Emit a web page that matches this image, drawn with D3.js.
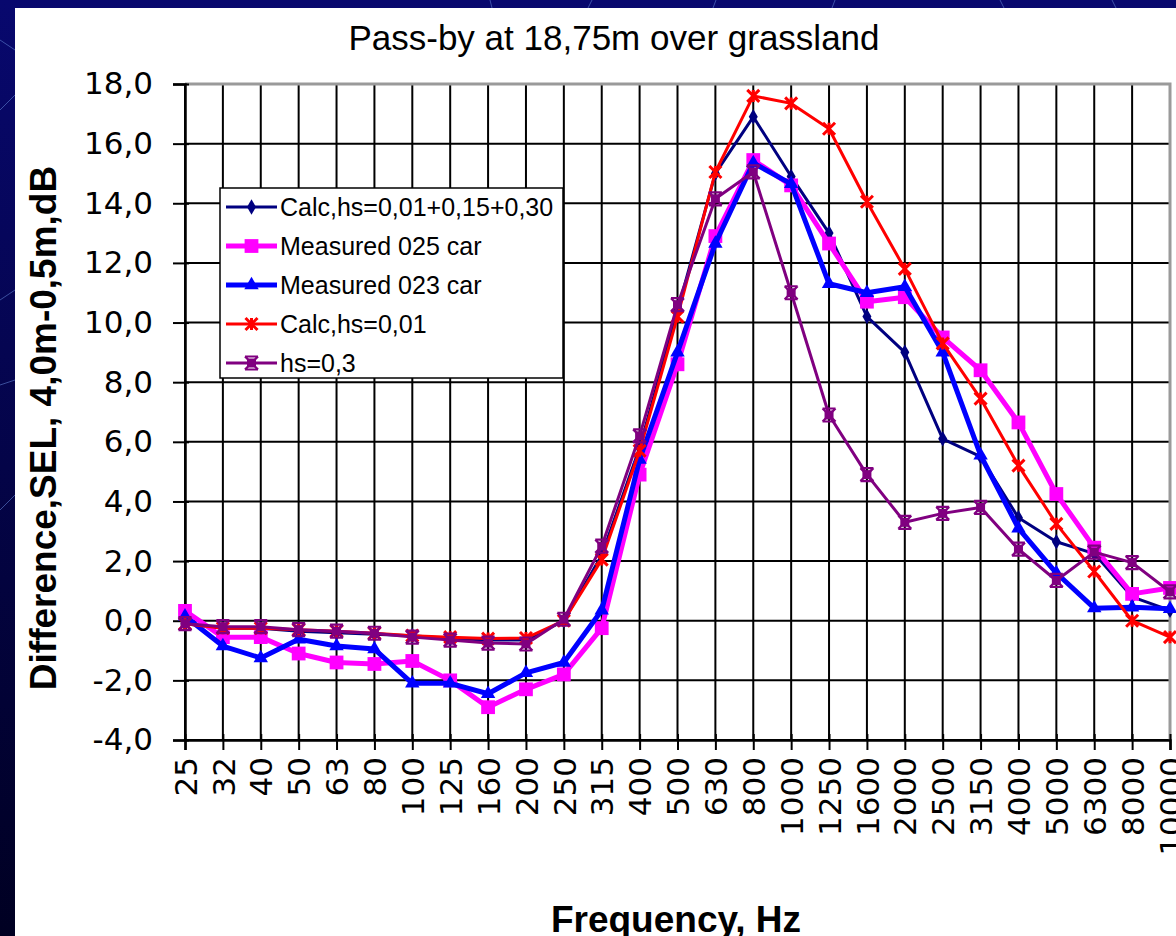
<!DOCTYPE html>
<html>
<head>
<meta charset="utf-8">
<script src="https://cdn.jsdelivr.net/npm/d3@7"></script>
<style>
  html, body { margin: 0; padding: 0; background: #00003a; }
  svg { display: block; }
</style>
</head>
<body>
<svg id="chart" width="1176" height="936"></svg>
<script>
// Third-octave band centre frequencies (Hz)
const categories = ["25","32","40","50","63","80","100","125","160","200","250","315","400","500",
  "630","800","1000","1250","1600","2000","2500","3150","4000","5000","6300","8000","10000"];

// SEL difference 4,0 m minus 0,5 m (dB) per band
const calcCombined = [-0.1,-0.25,-0.25,-0.35,-0.4,-0.45,-0.5,-0.6,-0.65,-0.65,0.0,2.2,5.8,10.4,
  15.0,16.9,14.9,13.0,10.2,9.0,6.1,5.5,3.45,2.65,2.25,0.8,0.35];
const measured025 = [0.33,-0.55,-0.55,-1.1,-1.4,-1.45,-1.35,-2.0,-2.9,-2.3,-1.8,-0.25,4.9,8.6,
  12.9,15.45,14.6,12.65,10.7,10.85,9.5,8.4,6.65,4.25,2.45,0.9,1.1];
const measured023 = [0.15,-0.85,-1.25,-0.62,-0.85,-0.95,-2.1,-2.1,-2.45,-1.75,-1.4,0.35,5.4,9.0,
  12.65,15.35,14.65,11.3,11.0,11.2,9.0,5.55,3.1,1.6,0.42,0.45,0.4];
const calcHs001 = [-0.1,-0.25,-0.25,-0.3,-0.35,-0.42,-0.5,-0.55,-0.6,-0.58,0.0,2.05,5.7,10.2,
  15.05,17.6,17.35,16.5,14.05,11.8,9.3,7.45,5.2,3.25,1.65,0.0,-0.55];
const calcHs03 = [-0.1,-0.2,-0.2,-0.3,-0.35,-0.42,-0.55,-0.65,-0.75,-0.78,0.05,2.5,6.2,10.6,
  14.15,15.05,11.0,6.9,4.9,3.3,3.6,3.8,2.4,1.35,2.3,1.95,0.97];

const seriesNames = ["Calc,hs=0,01+0,15+0,30","Measured 025 car","Measured 023 car","Calc,hs=0,01","hs=0,3"];
const seriesValues = [calcCombined, measured025, measured023, calcHs001, calcHs03];

const yTickValues = [-4,-2,0,2,4,6,8,10,12,14,16,18];

const titleText = "Pass-by at 18,75m over grassland";
const yTitleText = "Difference,SEL, 4,0m-0,5m,dB";
const xTitleText = "Frequency, Hz";

// Per-series drawing style
const styles = [
  {color:"#000080", width:3, marker:"diamond"},
  {color:"#ff00ff", width:5, marker:"square"},
  {color:"#0000ff", width:5, marker:"triangle"},
  {color:"#ff0000", width:3, marker:"star"},
  {color:"#800080", width:3, marker:"starsquare"}
];

const svg = d3.select("#chart");
const W = 1176, H = 936;
const plot = {left:185, right:1170, top:84, bottom:740};

// Slide background
const defs = svg.append("defs");
const bg = defs.append("linearGradient").attr("id","bgGrad").attr("x1",0).attr("y1",0).attr("x2",0).attr("y2",1);
bg.append("stop").attr("offset","0%").attr("stop-color","#08086e");
bg.append("stop").attr("offset","100%").attr("stop-color","#000022");
svg.append("rect").attr("width",W).attr("height",H).attr("fill","url(#bgGrad)");
// faint decorative strokes on the slide background
const deco = [[490,0,492,8],[592,0,588,8],[716,0,713,8],[835,0,832,8],[1000,0,1004,8],[1112,0,1116,8],
  [0,110,15,95],[0,300,15,290],[0,385,15,380],[0,510,15,495],[0,40,15,50]];
svg.selectAll("line.deco").data(deco).join("line").attr("class","deco")
  .attr("x1",d=>d[0]).attr("y1",d=>d[1]).attr("x2",d=>d[2]).attr("y2",d=>d[3])
  .attr("stroke","#5f7fd0").attr("stroke-width",1).attr("opacity",0.6);

// White chart panel
svg.append("rect").attr("x",15).attr("y",8).attr("width",W-15).attr("height",H-8).attr("fill","#ffffff");

const x = d3.scalePoint().domain(categories).range([plot.left, plot.right]);
const y = d3.scaleLinear().domain([-4,18]).range([plot.bottom, plot.top]);
const fmt = v => d3.format(".1f")(v).replace(".", ",").replace("−","-");

// Gridlines
const grid = svg.append("g").attr("stroke","#000").attr("stroke-width",2);
grid.selectAll("line.h").data(yTickValues).join("line")
  .attr("x1",plot.left).attr("x2",plot.right).attr("y1",d=>y(d)).attr("y2",d=>y(d));
grid.selectAll("line.v").data(categories).join("line")
  .attr("y1",plot.top).attr("y2",plot.bottom).attr("x1",d=>x(d)).attr("x2",d=>x(d));

// Plot area border (top/right)
svg.append("path")
  .attr("d",`M${plot.left},${plot.top}H${plot.right}V${plot.bottom}`)
  .attr("fill","none").attr("stroke","#9a9a9a").attr("stroke-width",3);

// Y axis
const yAxis = svg.append("g").attr("transform",`translate(${plot.left},0)`)
  .call(d3.axisLeft(y).tickValues(yTickValues).tickSize(12).tickPadding(20).tickFormat(fmt));
yAxis.select(".domain").attr("stroke","#000").attr("stroke-width",2.5);
yAxis.selectAll(".tick line").attr("stroke","#000").attr("stroke-width",2).attr("x2",-12);
yAxis.selectAll(".tick").append("line").attr("x1",0).attr("x2",4).attr("stroke","#000").attr("stroke-width",2);
yAxis.selectAll(".tick text").attr("font-family","'DejaVu Sans', sans-serif").attr("font-size",31).attr("fill","#000");

// X axis
const xAxis = svg.append("g").attr("transform",`translate(0,${plot.bottom})`)
  .call(d3.axisBottom(x).tickSize(10));
xAxis.select(".domain").attr("stroke","#000").attr("stroke-width",2.5);
xAxis.selectAll(".tick line").attr("stroke","#000").attr("stroke-width",2).attr("y1",-6);
xAxis.selectAll(".tick text")
  .attr("font-family","'DejaVu Sans', sans-serif").attr("font-size",31).attr("fill","#000")
  .attr("transform","rotate(-90)").attr("x",-17).attr("y",0).attr("dy","0.36em")
  .attr("text-anchor","end");

// Marker shapes
function markerPath(type) {
  switch (type) {
    case "diamond": return d3.symbol(d3.symbolDiamond, 70)();
    case "square": return d3.symbol(d3.symbolSquare, 190)();
    case "triangle": return d3.symbol(d3.symbolTriangle, 90)();
    default: return null;
  }
}
function drawMarker(g, type, color) {
  if (type === "star") {
    const s = 6;
    g.append("path").attr("d",`M${-s},${-s}L${s},${s}M${-s},${s}L${s},${-s}M0,${-s}L0,${s}`)
      .attr("stroke",color).attr("stroke-width",3).attr("fill","none");
  } else if (type === "starsquare") {
    g.append("rect").attr("x",-4.5).attr("y",-4.5).attr("width",9).attr("height",9).attr("fill",color);
    const s = 6.5;
    g.append("path").attr("d",`M${-s},${-s}L${s},${s}M${-s},${s}L${s},${-s}M${-s},${-s}H${s}M${-s},${s}H${s}`)
      .attr("stroke",color).attr("stroke-width",2.2).attr("fill","none");
  } else {
    g.append("path").attr("d",markerPath(type)).attr("fill",color);
  }
}

// Series
const line = d3.line().x((d,i)=>x(categories[i])).y(d=>y(d));
seriesValues.forEach((vals, si) => {
  const st = styles[si];
  const g = svg.append("g");
  g.append("path").datum(vals).attr("d",line).attr("fill","none")
    .attr("stroke",st.color).attr("stroke-width",st.width).attr("stroke-linejoin","round");
  vals.forEach((v,i) => {
    const mg = g.append("g").attr("transform",`translate(${x(categories[i])},${y(v)})`);
    drawMarker(mg, st.marker, st.color);
  });
});

// Legend
const leg = svg.append("g");
leg.append("rect").attr("x",220).attr("y",188).attr("width",343).attr("height",190)
  .attr("fill","#fff").attr("stroke","#000").attr("stroke-width",1.5);
seriesNames.forEach((name, si) => {
  const st = styles[si];
  const cy = 207 + si * 39;
  leg.append("line").attr("x1",226).attr("x2",277).attr("y1",cy).attr("y2",cy)
    .attr("stroke",st.color).attr("stroke-width",st.width);
  const mg = leg.append("g").attr("transform",`translate(251.5,${cy})`);
  drawMarker(mg, st.marker, st.color);
  leg.append("text").attr("x",280).attr("y",cy).attr("dy","0.36em")
    .attr("font-family","'Liberation Sans', Arial, sans-serif").attr("font-size",25)
    .attr("fill","#000").text(name);
});

// Titles
svg.append("text").attr("x",614).attr("y",50).attr("text-anchor","middle")
  .attr("font-family","'Liberation Sans', Arial, sans-serif").attr("font-size",35)
  .attr("fill","#000").text(titleText);
svg.append("text").attr("transform","translate(56,428) rotate(-90)").attr("text-anchor","middle")
  .attr("font-family","'Liberation Sans', Arial, sans-serif").attr("font-size",37).attr("font-weight","bold")
  .attr("fill","#000").text(yTitleText);
svg.append("text").attr("x",676).attr("y",932).attr("text-anchor","middle")
  .attr("font-family","'Liberation Sans', Arial, sans-serif").attr("font-size",37).attr("font-weight","bold")
  .attr("fill","#000").text(xTitleText);
</script>
</body>
</html>
